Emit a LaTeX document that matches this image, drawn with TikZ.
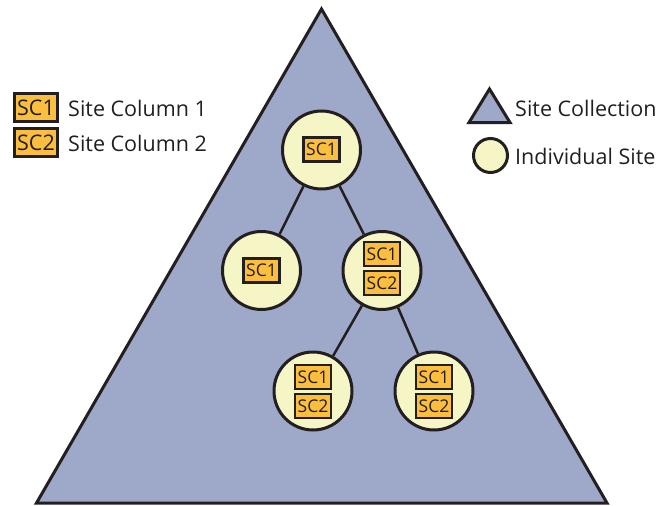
\documentclass[tikz,border=0pt]{standalone}
\usepackage{fontspec}
\setmainfont{Open Sans}
\definecolor{triblue}{HTML}{9EA8C8}
\definecolor{sitefill}{HTML}{F5F5C6}
\definecolor{colfill}{HTML}{FBBE3E}
\definecolor{ink}{HTML}{231F20}
\begin{document}
\begin{tikzpicture}[x=1pt,y=-1pt,
  site/.style={circle,draw=ink,fill=sitefill,line width=3pt,minimum size=78pt,inner sep=0pt},
  colbox/.style={rectangle,draw=ink,fill=colfill,line width=2.5pt,minimum width=36pt,minimum height=24pt,inner sep=0pt,font=\fontsize{17.5}{17.5}\selectfont,text=ink},
  legbox/.style={rectangle,draw=ink,fill=colfill,line width=2.8pt,minimum width=43pt,minimum height=28pt,inner sep=0pt,font=\fontsize{21.5}{21.5}\selectfont,text=ink},
  legtext/.style={anchor=west,inner sep=0pt,font=\fontsize{21.5}{22}\selectfont,text=ink},
  link/.style={draw=ink,line width=2.5pt}]
\useasboundingbox (0,0) rectangle (659,506);
% site collection triangle
\coordinate (apex) at (321.5,9);
\coordinate (bl) at (36.5,503);
\coordinate (br) at (607,503);
\draw[fill=triblue,draw=ink,line width=3pt,line join=miter] (apex) -- (br) -- (bl) -- cycle;
% sites
\node[site] (top) at (321.5,150) {};
\node[site] (lm) at (261.5,270.5) {};
\node[site] (rm) at (382,270.5) {};
\node[site] (bl1) at (313,391) {};
\node[site] (br1) at (434,391) {};
\draw[link] (top) -- (lm);
\draw[link] (top) -- (rm);
\draw[link] (rm) -- (bl1);
\draw[link] (rm) -- (br1);
% columns
\node[colbox] (topc1) at (321.5,149.5) {SC1};
\node[colbox] (lmc1) at (261.5,270.5) {SC1};
\node[colbox] (rmc1) at (382,254) {SC1};
\node[colbox] (rmc2) at (382,283) {SC2};
\node[colbox] (blc1) at (313,377) {SC1};
\node[colbox] (blc2) at (313,406) {SC2};
\node[colbox] (brc1) at (434,377) {SC1};
\node[colbox] (brc2) at (434,406) {SC2};
% legend left
\node[legbox] (lg1) at (36,107.5) {SC1};
\node[legbox] (lg2) at (36,142.5) {SC2};
\node[legtext] (lt1) at (68,108) {Site Column 1};
\node[legtext] (lt2) at (68,143) {Site Column 2};
% legend right
\coordinate (la) at (489.5,89);
\coordinate (lb1) at (469,122.5);
\coordinate (lb2) at (510,122.5);
\draw[fill=triblue,draw=ink,line width=3pt] (la) -- (lb2) -- (lb1) -- cycle;
\node[circle,draw=ink,fill=sitefill,line width=3pt,minimum size=34pt,inner sep=0pt] (lsite) at (490.5,155.5) {};
\node[legtext] (lt3) at (515,108) {Site Collection};
\node[legtext] (lt4) at (515,156) {Individual Site};
\end{tikzpicture}
\end{document}
